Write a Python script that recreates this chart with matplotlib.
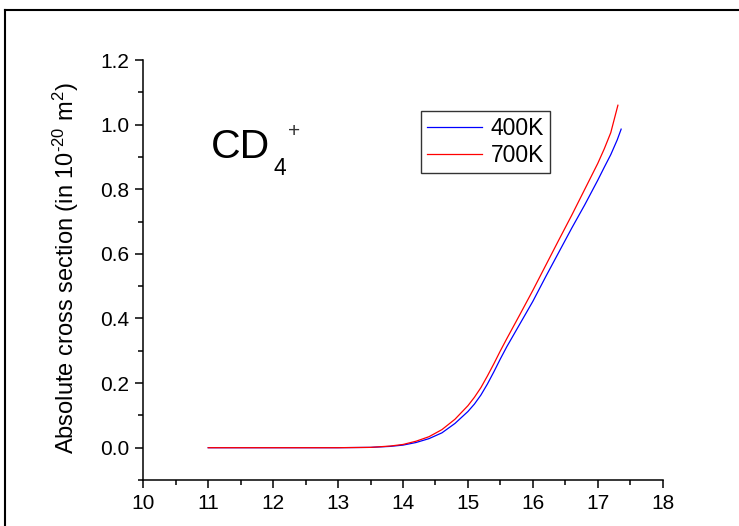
import matplotlib
matplotlib.use("Agg")
import matplotlib.pyplot as plt
from matplotlib.lines import Line2D
from matplotlib.ticker import MultipleLocator

plt.rcParams['font.family'] = ['Liberation Sans', 'DejaVu Sans']
plt.rcParams['mathtext.fontset'] = 'custom'
plt.rcParams['mathtext.rm'] = 'Liberation Sans'
plt.rcParams['mathtext.it'] = 'Liberation Sans:italic'

# ---- data ----
x_400 = [11.0, 12.0, 13.0, 13.5, 13.8, 14.0, 14.2, 14.4, 14.6, 14.8, 15.0, 15.1, 15.2, 15.3,
         15.4, 15.5, 15.6, 15.8, 16.0, 16.2, 16.4, 16.6, 16.8, 17.0, 17.1, 17.2, 17.3, 17.36]
y_400 = [0.0, 0.0, 0.0, 0.001, 0.004, 0.008, 0.016, 0.028, 0.046, 0.075, 0.112, 0.135, 0.163, 0.197,
         0.235, 0.275, 0.313, 0.383, 0.453, 0.53, 0.605, 0.68, 0.752, 0.828, 0.868, 0.907, 0.953, 0.986]
x_700 = [11.0, 12.0, 13.0, 13.5, 13.8, 14.0, 14.2, 14.4, 14.6, 14.8, 15.0, 15.1, 15.2, 15.3,
         15.4, 15.5, 15.6, 15.8, 16.0, 16.2, 16.4, 16.6, 16.8, 17.0, 17.1, 17.2, 17.31]
y_700 = [0.0, 0.0, 0.0, 0.001, 0.005, 0.010, 0.020, 0.034, 0.056, 0.088, 0.130, 0.156, 0.186, 0.222,
         0.26, 0.30, 0.338, 0.412, 0.487, 0.565, 0.643, 0.72, 0.80, 0.88, 0.925, 0.975, 1.06]
labels = ['400K', '700K']
x_ticks = [10, 11, 12, 13, 14, 15, 16, 17, 18]
y_ticks = [0.0, 0.2, 0.4, 0.6, 0.8, 1.0, 1.2]

W, H = 739, 526
fig = plt.figure(figsize=(W / 100, H / 100), dpi=100)
ax = fig.add_axes([143.3 / W, 1 - 480 / H, (662.7 - 143.3) / W, (480 - 60) / H])

ax.plot(x_400, y_400, color='#0000ff', lw=0.9, label=labels[0])
ax.plot(x_700, y_700, color='#ff0000', lw=0.9, label=labels[1])

ax.set_xlim(10, 18)
ax.set_ylim(-0.1, 1.2)
ax.set_xticks(x_ticks)
ax.set_xticklabels([str(t) for t in x_ticks])
ax.set_yticks(y_ticks)
ax.set_yticklabels([f"{t:.1f}" for t in y_ticks])
ax.xaxis.set_minor_locator(MultipleLocator(0.5))
ax.yaxis.set_minor_locator(MultipleLocator(0.1))
ax.tick_params(which='major', direction='out', length=6, width=1.1, labelsize=15, pad=4)
ax.tick_params(which='minor', direction='out', length=3.5, width=1.1)
for s in ['top', 'right']:
    ax.spines[s].set_visible(False)
for s in ['left', 'bottom']:
    ax.spines[s].set_linewidth(1.1)

fig.text(66 / W, 1 - 268 / H, r'Absolute cross section (in 10$^{\text{-20}}$ m$^{2}$)',
         rotation=90, ha='center', va='center', fontsize=17)

leg = ax.legend(loc='upper left', bbox_to_anchor=((421 - 143.3) / 519.4, (480 - 111) / 420),
                fontsize=16.5, frameon=True, fancybox=False, framealpha=1,
                edgecolor='#333333', handlelength=2.4, handletextpad=0.4,
                labelspacing=0.2, borderpad=0.25, borderaxespad=0)
leg.get_frame().set_linewidth(1.0)

fig.text(211 / W, 1 - 158 / H, 'CD', fontsize=29.5, ha='left', va='baseline')
fig.text(273 / W, 1 - 175 / H, '4', fontsize=16.5, ha='left', va='baseline')
fig.text(294 / W, 1 - 132 / H, '+', fontsize=15, ha='center', va='center', color='#333333')

# outer frame
fx = 4.5 / W
fy = 1 - 9.5 / H
fig.add_artist(Line2D([fx, fx], [0, fy], transform=fig.transFigure, color='black', lw=1.5))
fig.add_artist(Line2D([fx, 1.0], [fy, fy], transform=fig.transFigure, color='black', lw=1.5))

fig.savefig('out.png', dpi=100)
